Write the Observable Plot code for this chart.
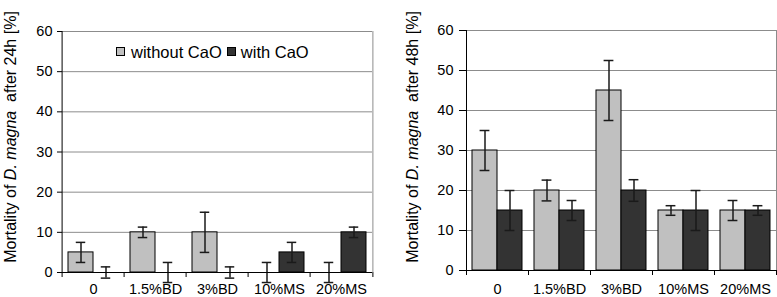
<!DOCTYPE html>
<html><head><meta charset="utf-8">
<script src="https://cdn.jsdelivr.net/npm/d3@7"></script>
<script src="https://cdn.jsdelivr.net/npm/@observablehq/plot@0.6"></script>
<style>
body{margin:0;background:#fff;}
#wrap{position:relative;width:777px;height:297px;font-family:"Liberation Sans",Arial,sans-serif;overflow:hidden;}
#wrap svg{position:absolute;top:0;}
.legend{position:absolute;left:116px;top:43.5px;display:flex;align-items:center;font-size:16.5px;line-height:16.5px;white-space:nowrap;color:#000;}
.sw{width:9px;height:9px;box-sizing:border-box;border:1px solid #000;display:inline-block;}
</style></head><body><div id="wrap"></div>
<script>
// ---- data ----
const categories = ["0", "1.5%BD", "3%BD", "10%MS", "20%MS"];
const seriesNames = ["without CaO", "with CaO"];
const seriesColors = ["#c0c0c0", "#333333"];
const yDomain = [0, 60];
const yTicks = [0, 10, 20, 30, 40, 50, 60];

// 24 h
const mort24Without = [5, 10, 10, 0, 0];
const err24Without = [2.5, 1.3, 5, 2.5, 2.5];
const mort24With = [0, 0, 0, 5, 10];
const err24With = [1.4, 2.5, 1.4, 2.5, 1.3];

// 48 h
const mort48Without = [30, 20, 45, 15, 15];
const err48Without = [5, 2.6, 7.5, 1.2, 2.5];
const mort48With = [15, 15, 20, 15, 15];
const err48With = [5, 2.5, 2.7, 5, 1.2];

function buildRows(vWithout, eWithout, vWith, eWith) {
  const rows = [];
  categories.forEach((cat, i) => {
    rows.push({cat, series: seriesNames[0], value: vWithout[i], err: eWithout[i]});
    rows.push({cat, series: seriesNames[1], value: vWith[i], err: eWith[i]});
  });
  return rows;
}

const FONT = '"Liberation Sans", Arial, sans-serif';

function chart({rows, left, width, ml, mr, mt, mb, tickSize, tickPadding, xPad, hours, titleX, titleY}) {
  const H = 297;
  const fw = (width - ml - mr) / categories.length;
  const po = 0.23;
  const bw = fw / (2 + 2 * po);
  const capInset = (bw - 10) / 2;
  const last = categories[categories.length - 1];
  const svg = Plot.plot({
    width, height: H,
    marginLeft: ml, marginRight: mr, marginTop: mt, marginBottom: mb,
    style: {fontFamily: FONT, fontSize: "14.5px", color: "#000", background: "transparent", overflow: "visible"},
    fx: {domain: categories, padding: 0, tickSize: 0, tickPadding: xPad, label: null, axis: "bottom"},
    x: {domain: seriesNames, paddingInner: 0, paddingOuter: po, axis: null},
    y: {domain: yDomain, ticks: yTicks, tickSize, tickPadding, label: null},
    color: {domain: seriesNames, range: seriesColors},
    marks: [
      Plot.ruleY(yTicks.slice(1), {stroke: "#8c8c8c", strokeWidth: 1}),
      Plot.barY(rows, {fx: "cat", x: "series", y: "value", fill: "series", stroke: "#000", strokeWidth: 1}),
      Plot.ruleX(rows, {fx: "cat", x: "series", y1: d => d.value - d.err, y2: d => d.value + d.err, stroke: "#1a1a1a", strokeWidth: 1.5}),
      Plot.tickY(rows, {fx: "cat", x: "series", y: d => d.value - d.err, insetLeft: capInset, insetRight: capInset, stroke: "#1a1a1a", strokeWidth: 1.5}),
      Plot.tickY(rows, {fx: "cat", x: "series", y: d => d.value + d.err, insetLeft: capInset, insetRight: capInset, stroke: "#1a1a1a", strokeWidth: 1.5}),
      Plot.ruleY([yDomain[0]], {stroke: "#000", strokeWidth: 1}),
      // right border of plot area
      Plot.ruleX([last], {fx: d => d, x: null, dx: fw / 2, y1: yDomain[0], y2: yDomain[1], stroke: "#8c8c8c"}),
      // y axis line
      Plot.ruleX([categories[0]], {fx: d => d, x: null, dx: -fw / 2, y1: yDomain[1], y2: yDomain[0], insetBottom: -5, stroke: "#000"}),
      // category boundary ticks
      Plot.ruleX(categories.slice(1), {fx: d => d, x: null, dx: -fw / 2, y1: yDomain[0], y2: yDomain[0], insetBottom: -5, stroke: "#000"}),
      Plot.ruleX([last], {fx: d => d, x: null, dx: fw / 2, y1: yDomain[0], y2: yDomain[0], insetBottom: -5, stroke: "#000"})
    ]
  });
  svg.style.left = left + "px";
  const t = d3.select(svg).append("text")
    .attr("transform", `translate(${titleX},${titleY}) rotate(-90)`)
    .attr("text-anchor", "middle")
    .attr("fill", "#000")
    .style("font-size", "16px")
    .style("font-family", FONT)
    .style("white-space", "pre")
    .attr("xml:space", "preserve");
  t.append("tspan").text("Mortality of ");
  t.append("tspan").style("font-style", "italic").text("D. magna");
  t.append("tspan").text(`  after ${hours} [%]`);
  return svg;
}

const wrap = document.getElementById("wrap");
wrap.appendChild(chart({
  rows: buildRows(mort24Without, err24Without, mort24With, err24With),
  left: 0, width: 388, ml: 60, mr: 14, mt: 31, mb: 25,
  tickSize: 5, tickPadding: 5, xPad: 11.5, hours: "24h", titleX: 16, titleY: 137
}));
wrap.appendChild(chart({
  rows: buildRows(mort48Without, err48Without, mort48With, err48With),
  left: 388, width: 389, ml: 78, mr: 1, mt: 30, mb: 27,
  tickSize: 7, tickPadding: 6, xPad: 13.5, hours: "48h", titleX: 29.5, titleY: 137
}));

// legend inside the left chart
const legend = document.createElement("div");
legend.className = "legend";
seriesNames.forEach((name, i) => {
  const sw = document.createElement("span");
  sw.className = "sw";
  sw.style.background = seriesColors[i];
  sw.style.marginRight = i === 0 ? "6px" : "4.5px";
  const label = document.createElement("span");
  label.textContent = name;
  if (i === 0) label.style.marginRight = "5.5px";
  legend.appendChild(sw);
  legend.appendChild(label);
});
wrap.appendChild(legend);
</script>
</body></html>
